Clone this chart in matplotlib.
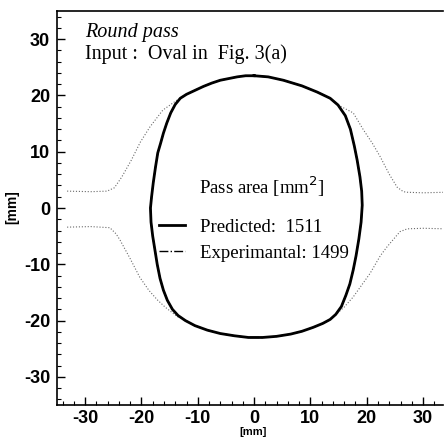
import numpy as np
import matplotlib
matplotlib.use("Agg")
import matplotlib.pyplot as plt
from matplotlib.ticker import MultipleLocator

plt.rcParams['axes.unicode_minus'] = False

# contorno do passe redondo, sentido anti-horario a partir do topo
contornoX = [0, -1.5, -3.0, -4.5, -6.0, -7.5, -9.0, -10.5, -12.0, -13.1, -14.0, -14.8,
             -15.5, -16.1, -16.6, -17.1, -17.5, -17.9, -18.2, -18.4, -18.3, -18.0, -17.6,
             -17.2, -16.7, -16.1, -15.4, -14.5, -13.5, -12.2, -10.5, -8.3, -6.0, -3.5,
             -1.0, 1.5, 4.0, 6.5, 8.5, 10.5, 12.2, 13.5, 14.5, 15.5, 16.3, 17.0, 17.6,
             18.1, 18.6, 19.0, 19.2, 19.1, 18.8, 18.3, 17.8, 17.1, 16.2, 14.9, 13.5,
             11.2, 8.5, 5.2, 2.5, 0]
contornoY = [23.5, 23.5, 23.3, 23.0, 22.7, 22.2, 21.6, 20.9, 20.2, 19.5, 18.4, 16.9,
             15.1, 13.3, 11.5, 9.8, 7.3, 4.5, 2.0, 0.0, -2.5, -5.0, -7.5,
             -10.0, -12.5, -14.6, -16.4, -18.0, -19.1, -20.0, -20.9, -21.7, -22.3, -22.7,
             -23.0, -23.0, -22.8, -22.4, -21.9, -21.2, -20.5, -19.8, -18.9, -17.5, -15.5, -13.5, -11.0,
             -8.5, -5.5, -2.5, 0.5, 3.0, 5.5, 8.5, 11.0, 14.0, 16.4, 18.3, 19.5,
             20.6, 21.7, 22.7, 23.3, 23.5]

# oval de entrada (linha fina), quatro ramos
ovalSupEsqX = [-33.2, -29.0, -26.1, -24.8, -23.5, -21.8, -20.2, -18.5, -16.2, -13.5]
ovalSupEsqY = [3.0, 2.9, 3.0, 3.6, 5.5, 8.5, 11.7, 14.4, 17.4, 19.3]
ovalSupDirX = [14.9, 17.6, 19.4, 21.0, 22.4, 24.0, 25.4, 26.5, 27.2, 30.0, 34.0]
ovalSupDirY = [18.3, 16.9, 13.9, 11.5, 9.1, 6.0, 3.7, 2.9, 2.8, 2.7, 2.8]
ovalInfEsqX = [-33.2, -29.0, -25.6, -24.5, -23.8, -22.0, -20.3, -18.7, -17.2, -15.8, -14.4, -13.3]
ovalInfEsqY = [-3.4, -3.3, -3.5, -4.6, -5.7, -9.0, -12.3, -14.6, -16.3, -17.6, -18.7, -19.5]
ovalInfDirX = [14.0, 16.0, 17.6, 20.6, 22.4, 23.6, 25.9, 27.2, 30.0, 34.0]
ovalInfDirY = [-19.4, -17.6, -15.8, -11.6, -8.5, -6.9, -4.2, -3.7, -3.6, -3.7]

areaPredita = 1511
areaExperimental = 1499

fig = plt.figure(figsize=(4.45, 4.37), dpi=100)
ax = fig.add_axes([0.128, 0.0732, 0.867, 0.9016])

corFina = '#6a6a6a'
for xs, ys in [(ovalSupEsqX, ovalSupEsqY), (ovalSupDirX, ovalSupDirY),
               (ovalInfEsqX, ovalInfEsqY), (ovalInfDirX, ovalInfDirY)]:
    ax.plot(xs, ys, ':', color=corFina, lw=0.8)

linhaPred, = ax.plot(contornoX, contornoY, '-', color='black', lw=2.0,
                     label="Predicted:  %d" % areaPredita)
linhaExp, = ax.plot(contornoX, contornoY, '-.', color='black', lw=1.0,
                    label="Experimantal: %d" % areaExperimental)

ax.set_xlim(-35, 33.5)
ax.set_ylim(-35, 35)
ax.xaxis.set_major_locator(MultipleLocator(10))
ax.xaxis.set_minor_locator(MultipleLocator(2))
ax.yaxis.set_major_locator(MultipleLocator(10))
ax.yaxis.set_minor_locator(MultipleLocator(2))
ax.tick_params(which='major', direction='in', length=6, width=1.0, pad=5)
ax.tick_params(axis='x', which='major', pad=3.5)
ax.tick_params(which='minor', direction='in', length=3, width=0.8)
ax.spines['right'].set_visible(False)
for s in ['left', 'bottom', 'top']:
    ax.spines[s].set_linewidth(1.2)

for lab in ax.get_xticklabels() + ax.get_yticklabels():
    lab.set_fontfamily('Liberation Sans')
    lab.set_fontweight('bold')
    lab.set_fontsize(13)

ax.set_xlabel("[mm]", fontfamily='Liberation Sans', fontweight='bold', fontsize=8)
ax.set_ylabel("[mm]", fontfamily='Liberation Sans', fontweight='bold', fontsize=10)
ax.xaxis.set_label_coords(0.508, -0.057)
ax.yaxis.set_label_coords(-0.098, 0.503)

ax.text(0.073, 0.934, "Round pass", transform=ax.transAxes, fontfamily='Liberation Serif',
        fontstyle='italic', fontsize=14.5, va='baseline')
ax.text(0.073, 0.878, "Input :  Oval in  Fig. 3(a)", transform=ax.transAxes,
        fontfamily='Liberation Serif', fontsize=14.5, va='baseline')

# titulo da legenda separado para controlar o espaco
ax.text(0.368, 0.553, "Pass area [mm$^2$]", transform=ax.transAxes,
        fontfamily='Liberation Serif', fontsize=13.5, va='center', ha='left')
leg = ax.legend(handles=[linhaPred, linhaExp],
                loc='upper left', bbox_to_anchor=(0.240, 0.497), frameon=False,
                borderpad=0, handlelength=1.4, handletextpad=0.8, labelspacing=0.49,
                prop={'family': 'Liberation Serif', 'size': 13.5})

fig.savefig("out.png", dpi=100)
